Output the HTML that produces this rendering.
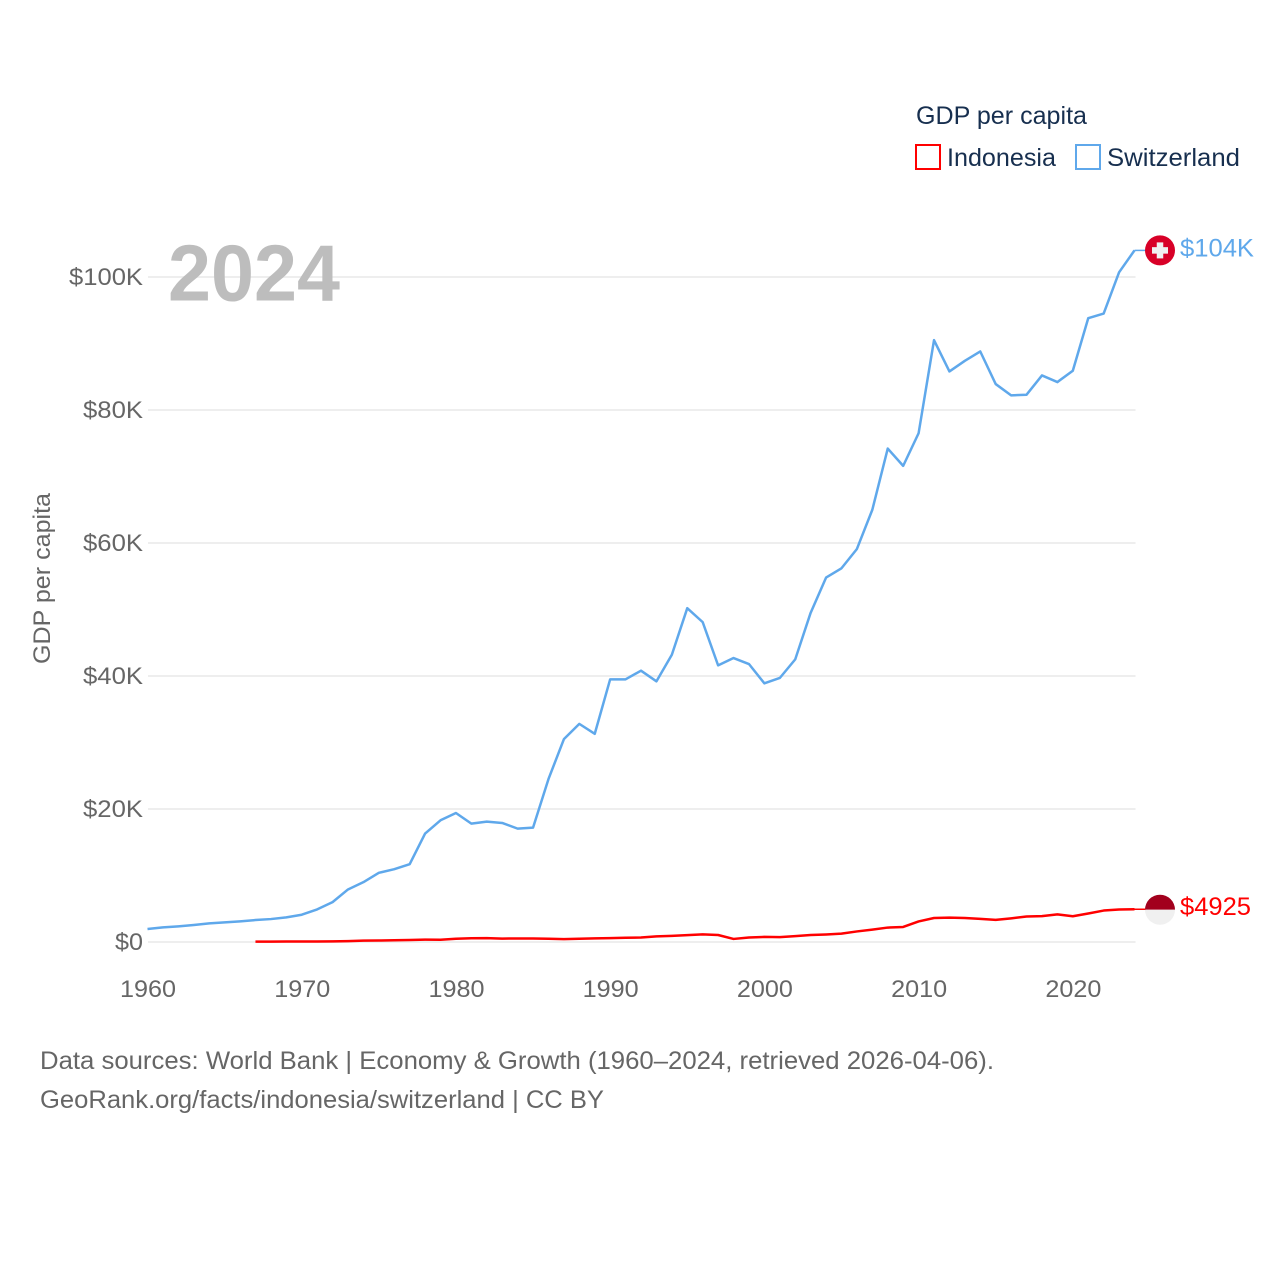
<!DOCTYPE html>
<html lang="en">
<head>
<meta charset="utf-8">
<title>GDP per capita: Indonesia and Switzerland</title>
<style>
  html, body { margin: 0; padding: 0; background: #fff; }
  svg { display: block; font-family: "Liberation Sans", sans-serif; }
</style>
</head>
<body>
<svg id="chart" xmlns="http://www.w3.org/2000/svg" width="1280" height="1280" viewBox="0 0 1280 1280">
  <rect width="1280" height="1280" fill="#ffffff"/>
  <defs>
    <clipPath id="flag-ch"><circle cx="0" cy="0" r="15"/></clipPath>
    <clipPath id="flag-id"><circle cx="0" cy="0" r="15"/></clipPath>
  </defs>

  <g id="grid"></g>
  <g id="yticks"></g>
  <g id="xticks"></g>

  <text x="168" y="300.5" font-size="80" font-weight="700" fill="#bdbdbd" textLength="172" lengthAdjust="spacingAndGlyphs">2024</text>

  <text transform="translate(50,664) rotate(-90)" font-size="24" fill="#666666" textLength="171" lengthAdjust="spacingAndGlyphs">GDP per capita</text>

  <g id="series"></g>
  <g id="endpoints"></g>

  <g>
    <text x="916" y="124" font-size="25" fill="#172f4f" textLength="171" lengthAdjust="spacingAndGlyphs">GDP per capita</text>
    <g>
      <rect x="916" y="145" width="24" height="24" fill="#ffffff" stroke="#ff0000" stroke-width="2"/>
      <text x="947" y="166" font-size="25" fill="#172f4f" textLength="109" lengthAdjust="spacingAndGlyphs">Indonesia</text>
    </g>
    <g>
      <rect x="1076" y="145" width="24" height="24" fill="#ffffff" stroke="#5fa8eb" stroke-width="2"/>
      <text x="1107" y="166" font-size="25" fill="#172f4f" textLength="133" lengthAdjust="spacingAndGlyphs">Switzerland</text>
    </g>
  </g>

  <text x="40" y="1069" font-size="25" fill="#666666" textLength="954" lengthAdjust="spacingAndGlyphs">Data sources: World Bank | Economy &amp; Growth (1960–2024, retrieved 2026-04-06).</text>
  <text x="40" y="1108" font-size="25" fill="#666666" textLength="564" lengthAdjust="spacingAndGlyphs">GeoRank.org/facts/indonesia/switzerland | CC BY</text>
</svg>

<script>
const years = [1960,1961,1962,1963,1964,1965,1966,1967,1968,1969,1970,1971,1972,1973,1974,1975,1976,1977,1978,1979,1980,1981,1982,1983,1984,1985,1986,1987,1988,1989,1990,1991,1992,1993,1994,1995,1996,1997,1998,1999,2000,2001,2002,2003,2004,2005,2006,2007,2008,2009,2010,2011,2012,2013,2014,2015,2016,2017,2018,2019,2020,2021,2022,2023,2024];
const switzerlandValues = [1.95,2.2,2.35,2.55,2.8,2.95,3.1,3.3,3.45,3.7,4.1,4.9,6.0,7.9,9.0,10.4,10.95,11.7,16.3,18.3,19.4,17.8,18.1,17.9,17.05,17.2,24.5,30.5,32.8,31.3,39.5,39.5,40.8,39.2,43.2,50.2,48.1,41.6,42.7,41.8,38.9,39.7,42.5,49.5,54.8,56.2,59.1,65.0,74.2,71.6,76.5,90.5,85.8,87.4,88.8,83.9,82.2,82.3,85.2,84.2,85.9,93.8,94.5,100.7,104.0];
const indonesiaValues = [null,null,null,null,null,null,null,0.055,0.065,0.07,0.08,0.08,0.09,0.13,0.2,0.22,0.26,0.31,0.35,0.34,0.49,0.57,0.58,0.51,0.53,0.52,0.48,0.44,0.49,0.54,0.59,0.64,0.68,0.84,0.92,1.03,1.14,1.05,0.46,0.67,0.77,0.74,0.89,1.05,1.13,1.26,1.59,1.86,2.17,2.26,3.09,3.61,3.67,3.6,3.47,3.32,3.56,3.84,3.9,4.15,3.87,4.29,4.73,4.88,4.925];
const yTickValues = [0,20,40,60,80,100];
const yTickLabels = ["$0","$20K","$40K","$60K","$80K","$100K"];
const xTickValues = [1960,1970,1980,1990,2000,2010,2020];
const switzerlandEndLabel = "$104K";
const indonesiaEndLabel = "$4925";

const SVGNS = "http://www.w3.org/2000/svg";
function xScale(year) { return 147.5 + (year - 1960) * (1134.5 - 147.5) / 64; }
function yScale(value) { return 942 - value * 6.65; }
function make(tag, attrs, parent) {
  const el = document.createElementNS(SVGNS, tag);
  for (const k in attrs) el.setAttribute(k, attrs[k]);
  parent.appendChild(el);
  return el;
}
function labelWidth(s) {
  let w = 0;
  for (const c of s) w += (c === "K") ? 18 : 14;
  return w;
}

const grid = document.getElementById("grid");
const yticks = document.getElementById("yticks");
const xticks = document.getElementById("xticks");
const series = document.getElementById("series");
const endpoints = document.getElementById("endpoints");

yTickValues.forEach(function (v, i) {
  const line = make("line", { x1: 148, x2: 1135.5, y1: yScale(v), y2: yScale(v), stroke: "#eeeeee", "stroke-width": 2 }, grid);
  
  
  const t = make("text", { x: 143, y: yScale(v) + 8, "text-anchor": "end", "font-size": 24, fill: "#666666", textLength: labelWidth(yTickLabels[i]), lengthAdjust: "spacingAndGlyphs" }, yticks);
  
  
  t.textContent = yTickLabels[i];
});

xTickValues.forEach(function (y) {
  const t = make("text", { x: xScale(y) + 0.5, y: 997, "text-anchor": "middle", "font-size": 24, fill: "#666666", textLength: labelWidth(String(y)), lengthAdjust: "spacingAndGlyphs" }, xticks);
  
  
  t.textContent = String(y);
});

function linePath(values) {
  let d = "";
  values.forEach(function (v, i) {
    if (v === null) return;
    d += (d ? "L" : "M") + xScale(years[i]).toFixed(2) + " " + yScale(v).toFixed(2);
  });
  return d;
}

const chLine = make("path", { d: linePath(switzerlandValues), fill: "none", stroke: "#5fa8eb", "stroke-width": 2.5, "stroke-linejoin": "round" }, series);


const idLine = make("path", { d: linePath(indonesiaValues), fill: "none", stroke: "#ff0000", "stroke-width": 2.5, "stroke-linejoin": "round" }, series);



const lastX = xScale(years[years.length - 1]);
const chY = yScale(switzerlandValues[switzerlandValues.length - 1]);
const idY = yScale(indonesiaValues[indonesiaValues.length - 1]);

const chLead = make("line", { x1: lastX, x2: 1146, y1: chY, y2: chY, stroke: "#5fa8eb", "stroke-width": 1.5 }, endpoints);


const idLead = make("line", { x1: lastX, x2: 1146, y1: idY, y2: idY, stroke: "#ff0000", "stroke-width": 1.5 }, endpoints);



const chFlag = make("g", { transform: "translate(1160," + chY + ")", "clip-path": "url(#flag-ch)" }, endpoints);


make("rect", { x: -16, y: -16, width: 32, height: 32, fill: "#d80027" }, chFlag);
make("rect", { x: -8, y: -3.25, width: 16, height: 6.5, fill: "#f0f0f0" }, chFlag);
make("rect", { x: -3.25, y: -8, width: 6.5, height: 16, fill: "#f0f0f0" }, chFlag);

const idFlag = make("g", { transform: "translate(1160," + (idY + 0.5) + ")", "clip-path": "url(#flag-id)" }, endpoints);


make("rect", { x: -16, y: -16, width: 32, height: 16, fill: "#a2001d" }, idFlag);
make("rect", { x: -16, y: 0, width: 32, height: 16, fill: "#f0f0f0" }, idFlag);

const chLabel = make("text", { x: 1180, y: chY + 6, "font-size": 25, fill: "#5fa8eb", textLength: 74, lengthAdjust: "spacingAndGlyphs" }, endpoints);


chLabel.textContent = switzerlandEndLabel;
const idLabel = make("text", { x: 1180, y: idY + 6, "font-size": 25, fill: "#ff0000", textLength: 71, lengthAdjust: "spacingAndGlyphs" }, endpoints);


idLabel.textContent = indonesiaEndLabel;
</script>
</body>
</html>
